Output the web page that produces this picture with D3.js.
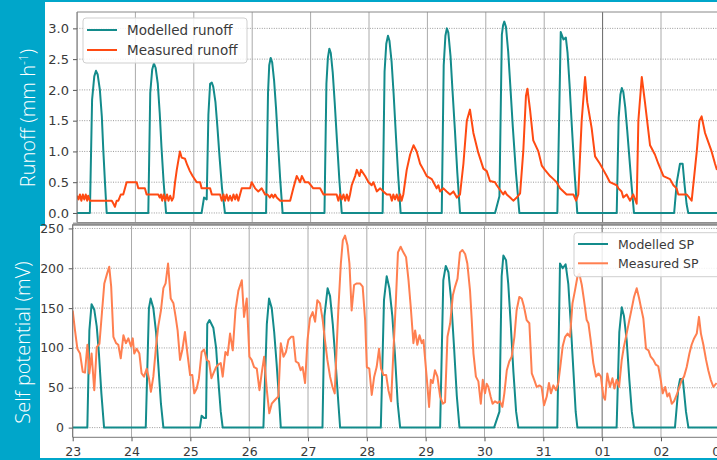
<!DOCTYPE html>
<html><head><meta charset="utf-8">
<script src="https://cdn.jsdelivr.net/npm/d3@7"></script>
<style>html,body{margin:0;padding:0;background:#00a6ca;}svg{display:block}</style>
</head><body>
<svg id="chart" width="717" height="460"></svg>
<script>
// ---- data (time in hours since 23rd 00:00) ----
const dayTicks = [0,24,48,72,96,120,144,168,192,216,240,264];
const dayLabels = ["23","24","25","26","27","28","29","30","31","01","02","03"];
const runoffTicks = [0,0.5,1,1.5,2,2.5,3];
const spTicks = [0,50,100,150,200,250];

const modelledRunoff = [
 [0,0],[5.3,0],[6.2,1.84],[7.1,2.22],[7.8,2.31],[8.5,2.25],[9.4,2.0],[10.2,1.57],[10.8,1.03],[11.5,0.49],[12.2,0],
 [29.3,0],[30.1,1.95],[30.9,2.33],[31.6,2.43],[32.3,2.36],[33.2,2.1],[34.0,1.62],[34.7,1.08],[35.6,0.5],[36.6,0],
 [51.2,0],[52.2,0.25],[53.3,0.22],[54.0,1.6],[54.7,2.1],[55.4,2.12],[56.0,2.05],[56.9,1.8],[57.7,1.4],[58.6,0.9],[59.6,0.4],[60.8,0],
 [77.7,0],[78.5,1.95],[79.0,2.4],[79.6,2.52],[80.2,2.45],[81.0,2.15],[81.8,1.7],[82.6,1.15],[83.5,0.55],[84.5,0],
 [101.7,0],[102.5,2.1],[103.1,2.52],[103.7,2.67],[104.3,2.6],[105.1,2.28],[105.9,1.8],[106.8,1.2],[107.8,0.55],[108.8,0],
 [125.6,0],[126.4,2.3],[127.1,2.75],[127.8,2.88],[128.4,2.8],[129.3,2.45],[130.1,1.95],[131.0,1.3],[132.0,0.6],[133.0,0],
 [149.9,0],[150.7,2.4],[151.4,2.88],[152.0,3.0],[152.6,2.93],[153.5,2.55],[154.3,2.0],[155.3,1.35],[156.3,0.65],[157.4,0],
 [171.8,0],[173.6,0.27],[174.6,2.9],[175.1,3.05],[175.6,3.11],[176.3,3.02],[177.2,2.62],[178.1,2.05],[179.1,1.4],[180.4,0.65],[181.8,0],
 [197.4,0],[198.8,2.94],[199.9,2.82],[200.9,2.85],[201.6,2.6],[202.4,2.1],[203.3,1.45],[204.4,0.7],[205.6,0],
 [221.8,0],[222.6,1.55],[223.3,1.92],[223.9,2.03],[224.5,1.97],[225.3,1.72],[226.1,1.35],[227.0,0.9],[227.9,0.45],[228.9,0],
 [245.4,0],[246.5,0.5],[247.8,0.8],[248.9,0.8],[249.7,0.45],[250.5,0.15],[251.2,0],[266,0]
];

const measuredRunoff = [
 [0,0.28],[0.6,0.22],[1.2,0.3],[1.8,0.2],[2.4,0.3],[3.0,0.22],[3.6,0.3],[4.2,0.2],[4.6,0.28],[5.3,0.2],[14.3,0.2],[15.0,0.15],[15.6,0.1],
 [16.3,0.2],[17,0.2],[18,0.3],[19,0.3],[20.4,0.5],[24.5,0.5],[25.2,0.4],[27.9,0.4],[28.6,0.3],[33.4,0.3],[34,0.25],[34.5,0.3],
 [35,0.2],[35.6,0.3],[36.3,0.2],[37,0.3],[37.6,0.2],[38.3,0.28],[39,0.2],[39.6,0.25],[40.3,0.5],[41,0.7],[42.3,1.0],[43.0,0.9],
 [44.4,0.88],[45.3,0.78],[46.4,0.68],[47.5,0.6],[49.2,0.5],[50.6,0.5],[51.2,0.4],[54.7,0.4],[55.4,0.3],[58.8,0.3],[59.5,0.2],
 [60.2,0.3],[60.8,0.2],[61.5,0.3],[62.2,0.2],[62.9,0.28],[63.6,0.2],[64.3,0.3],[65.0,0.22],[65.6,0.3],[66.3,0.2],[67.0,0.3],
 [67.7,0.4],[71.1,0.4],[71.8,0.5],[73.2,0.4],[74.5,0.35],[75.9,0.4],[77.3,0.3],[78.3,0.3],[79.3,0.25],[80.0,0.3],[80.7,0.25],
 [81.4,0.3],[82.1,0.25],[83.5,0.2],[87.6,0.2],[88.9,0.4],[90.3,0.6],[91.0,0.55],[91.7,0.5],[92.4,0.6],[93.7,0.5],[95.1,0.5],
 [97.1,0.4],[99.9,0.4],[101.3,0.3],[106.7,0.3],[107.4,0.2],[108.1,0.3],[108.8,0.22],[109.5,0.3],[110.2,0.2],[110.9,0.3],
 [111.6,0.2],[112.2,0.3],[112.9,0.45],[114.3,0.6],[115,0.7],[116.1,0.6],[116.7,0.7],[118.4,0.6],[119.8,0.5],[121.1,0.45],
 [121.8,0.5],[123.2,0.35],[124.6,0.4],[125.9,0.35],[127.3,0.3],[128.7,0.3],[129.4,0.2],[130.0,0.3],[130.7,0.22],[131.4,0.3],
 [132.1,0.2],[132.8,0.3],[133.4,0.2],[134.1,0.3],[134.8,0.5],[135.5,0.7],[136.9,0.95],[138.3,1.1],[139.6,1.0],[141,0.8],
 [142.4,0.7],[143.7,0.6],[145.8,0.55],[146.5,0.5],[147.8,0.4],[148.5,0.45],[149.2,0.35],[150.6,0.4],[151.9,0.35],[153.3,0.3],
 [154.7,0.35],[156.1,0.25],[157.4,0.3],[158.8,0.8],[160.2,1.5],[161.5,1.68],[162.9,1.3],[164.9,0.98],[167,0.72],[168.4,0.68],
 [169.7,0.52],[171.8,0.5],[172.5,0.45],[175.2,0.3],[175.9,0.35],[176.6,0.3],[178,0.25],[179.3,0.2],[180.7,0.25],[182.1,0.32],
 [183.4,1.0],[184.5,1.9],[185.1,2.02],[186.2,1.67],[187.5,1.18],[189.6,1.0],[191,0.77],[192.3,0.7],[194.4,0.6],[195.8,0.55],
 [197.1,0.5],[198.5,0.4],[199.9,0.35],[201.2,0.3],[204,0.3],[205.1,0.2],[206,0.3],[207.4,1.5],[208.8,2.21],[209.7,1.8],
 [211.5,1.38],[212.9,0.92],[214.9,0.8],[216.3,0.7],[217.7,0.6],[219,0.5],[221.8,0.45],[222.5,0.4],[223.8,0.35],[224.5,0.25],
 [225.9,0.3],[227.3,0.2],[228.6,0.3],[230,0.15],[230.7,1.5],[232.1,2.21],[233.4,1.8],[235.5,1.1],[237.5,0.95],[238.9,0.8],
 [241,0.6],[243.7,0.55],[245.1,0.45],[246.4,0.4],[247.1,0.3],[250.6,0.3],[252.6,0.2],[254.7,1.0],[255.8,1.5],[256.7,1.57],
 [258.1,1.3],[259,1.2],[260.8,1.0],[262.2,0.8],[263,0.7]
];

const modelledSP = [
 [0,0],[5.97,0],[6.8,122],[7.7,155],[8.8,148],[9.8,127],[10.7,93],[11.7,43],[12.8,0],
 [29.8,0],[31.1,150],[31.8,162],[32.9,150],[34.0,120],[34.9,80],[36.0,30],[37.0,0],
 [51.9,0],[52.6,15],[53.6,12],[54.4,12],[54.9,130],[55.8,135],[57.4,125],[58.5,100],[59.4,60],[60.4,20],[61.2,0],
 [77.8,0],[79.2,130],[80.1,162],[81.2,150],[82.2,120],[83.2,80],[84.3,30],[84.9,0],
 [101.9,0],[102.7,140],[104.0,175],[105.0,165],[106.1,130],[107.3,80],[108.4,30],[109.1,0],
 [125.7,0],[127.0,160],[128.1,190],[129.2,175],[130.4,140],[131.5,90],[132.6,30],[133.6,0],
 [149.9,0],[151.2,185],[152.2,203],[153.3,195],[154.4,160],[155.6,100],[156.7,40],[157.8,0],
 [171.9,0],[174.1,20],[175.0,190],[175.7,216],[176.8,210],[177.7,180],[178.7,130],[179.8,70],[180.9,20],[181.8,0],
 [197.7,0],[198.8,206],[199.9,200],[201.1,205],[202.2,180],[203.2,130],[204.3,70],[205.2,20],[205.9,0],
 [221.9,0],[223.0,120],[224.0,151],[224.9,140],[226.0,110],[227.1,60],[228.1,20],[229.0,0],
 [245.7,0],[247.1,50],[247.8,61],[248.9,61],[250.2,20],[251.2,0],[266,0]
];

const measuredSP = [
 [0,147],[0.94,122],[1.9,99],[3.0,93],[4.1,70],[5.0,69],[6.0,104],[6.8,68],[7.7,93],[8.8,47],[9.8,101],[10.9,105],[12.0,147],
 [12.9,181],[14.0,193],[14.9,202],[15.7,177],[16.6,114],[17.7,106],[18.6,104],[19.6,87],[20.7,116],[21.7,106],[22.7,112],
 [23.8,102],[24.5,112],[25.1,93],[26.1,99],[27.2,93],[28.1,68],[29.1,64],[30.2,74],[31.1,62],[31.9,45],[32.9,64],[34.0,102],
 [34.9,127],[36.0,147],[37.0,175],[37.9,181],[38.9,206],[40.0,162],[41.1,156],[42.0,139],[42.8,122],[43.8,85],[44.7,97],
 [45.8,120],[46.8,93],[47.9,66],[48.8,66],[49.6,43],[50.6,49],[51.5,62],[52.6,95],[53.6,98],[54.7,85],[55.6,83],[56.6,62],
 [57.4,68],[58.5,76],[59.4,79],[60.4,81],[61.2,64],[62.3,95],[63.2,91],[64.2,118],[65.3,97],[66.4,147],[67.6,172],[69.0,185],
 [69.9,139],[71.0,162],[72.1,89],[73.0,85],[74.0,76],[75.1,74],[76.2,47],[77.1,68],[78.1,89],[79.2,47],[80.2,18],[81.2,30],
 [82.6,35],[83.9,39],[84.9,106],[86.0,89],[87.0,95],[88.0,110],[89.1,114],[90.0,114],[91.0,83],[92.1,81],[93.0,72],[93.8,76],
 [94.8,56],[95.8,110],[96.8,137],[97.9,145],[98.9,133],[99.8,160],[100.9,156],[102.0,135],[102.9,110],[103.9,85],[105.0,64],
 [106.0,51],[106.9,43],[107.7,102],[108.4,150],[109.4,206],[110.2,235],[111.1,241],[112.1,229],[112.9,206],[113.8,147],
 [114.8,179],[115.9,181],[117.2,181],[118.3,177],[119.3,135],[120.0,76],[121.0,74],[122.0,41],[123.0,64],[124.0,76],[125.0,99],
 [125.8,74],[126.8,66],[127.9,66],[128.8,47],[129.9,33],[130.8,93],[131.8,156],[132.7,220],[133.8,227],[134.9,220],[136.0,214],
 [137.0,185],[137.9,152],[139.0,106],[139.7,122],[140.6,104],[141.5,116],[142.4,106],[143.1,110],[144.4,64],[145.4,26],[146.1,60],
 [146.9,56],[147.8,72],[148.8,64],[149.9,39],[151.0,30],[151.9,32],[152.9,114],[154.0,131],[155.1,166],[156.0,177],[157.0,187],
 [158.0,220],[159.0,223],[160.1,218],[161.0,206],[162.1,172],[162.8,135],[163.5,93],[164.5,64],[165.5,58],[166.5,30],[167.3,60],
 [168.2,43],[168.9,55],[169.6,51],[170.5,39],[171.3,30],[172.3,33],[173.3,31],[174.3,33],[175.3,26],[176.1,43],[177.1,72],
 [178.1,83],[179.1,89],[180.2,114],[181.1,147],[182.2,164],[183.2,162],[184.1,152],[185.2,135],[186.3,131],[187.3,68],[188.3,60],
 [189.3,51],[190.4,53],[191.3,51],[192.3,28],[193.4,39],[194.3,56],[195.1,43],[196.1,53],[197.2,47],[198.1,56],[199.1,81],
 [199.9,102],[200.9,114],[201.9,118],[202.9,114],[203.9,156],[204.9,172],[205.9,189],[206.7,193],[207.7,179],[208.6,160],
 [209.7,135],[210.4,131],[211.3,110],[212.4,81],[213.5,64],[214.5,68],[215.5,64],[216.5,39],[217.2,35],[218.1,68],[219.2,51],
 [220.2,62],[221.0,49],[221.9,60],[222.9,51],[224.0,85],[224.9,102],[226.0,118],[227.1,135],[228.1,150],[229.0,164],[230.1,175],
 [231.1,162],[231.9,150],[232.8,137],[233.9,99],[234.9,97],[235.8,89],[236.9,85],[237.9,79],[238.9,77],[239.9,60],[240.7,43],
 [241.7,51],[242.6,39],[243.4,43],[244.4,30],[245.3,33],[246.4,41],[247.5,51],[248.5,60],[249.4,64],[250.5,76],[251.6,93],
 [252.5,104],[253.5,112],[254.6,118],[255.5,139],[256.3,118],[257.3,104],[258.4,85],[259.3,72],[260.3,60],[261.4,51],[262.7,56]
];

// ---- colours / styles ----
const teal = "#138b8b", orangered = "#ff4a12", coral = "#ff7f50";
const cyan = "#00a6ca";
const tickColor = "#3a3a3a";

const svg = d3.select("#chart");
const W = 717, H = 460;

svg.append("rect").attr("width", W).attr("height", H).attr("fill", cyan);

const pTop = {x0: 77, y0: 12, y1: 222.5};
const pBot = {x0: 72.7, y0: 224.3, y1: 437.3};

const xTop = d3.scaleLinear().domain([0, 264]).range([77, 719.4]);
const yTop = d3.scaleLinear().domain([-0.155, 3.266]).range([222.5, 12]);
const xBot = d3.scaleLinear().domain([0, 264]).range([72.7, 719.8]);
const yBot = d3.scaleLinear().domain([-12.15, 255.2]).range([437.3, 224.3]);

svg.append("rect").attr("x", 45).attr("y", 2).attr("width", W - 45).attr("height", 224).attr("fill", "#fff");

const defs = svg.append("defs");
defs.append("clipPath").attr("id", "clipTop").append("rect")
  .attr("x", pTop.x0).attr("y", pTop.y0).attr("width", W - pTop.x0).attr("height", pTop.y1 - pTop.y0);
defs.append("clipPath").attr("id", "clipBot").append("rect")
  .attr("x", pBot.x0).attr("y", pBot.y0).attr("width", W - pBot.x0).attr("height", pBot.y1 - pBot.y0);

function drawPanel(g, x, y, yTicks, yFmt, clipId, box, fontSize, labelEnd) {
  const grid = g.append("g").attr("clip-path", `url(#${clipId})`);
  grid.selectAll("line.h").data(yTicks).join("line")
    .attr("x1", box.x0).attr("x2", W).attr("y1", d => y(d)).attr("y2", d => y(d))
    .attr("stroke", "#9a9a9a").attr("stroke-width", 1).attr("stroke-dasharray", "1,1.4");
  grid.selectAll("line.v").data(dayTicks).join("line")
    .attr("x1", d => x(d)).attr("x2", d => x(d)).attr("y1", box.y0).attr("y2", box.y1)
    .attr("stroke", (d, i) => dayLabels[i] === "01" ? "#666" : "#aaaaaa").attr("stroke-width", 1);
  const ya = d3.axisLeft(y).tickValues(yTicks).tickFormat(yFmt).tickSize(4).tickPadding(4);
  const ag = g.append("g").attr("transform", `translate(${box.x0},0)`).call(ya);
  ag.select(".domain").remove();
  ag.selectAll("line").attr("stroke", "#555");
  ag.selectAll("text").attr("fill", tickColor).style("font-family", "DejaVu Sans")
    .style("font-size", fontSize + "px").attr("x", labelEnd - box.x0);
  g.append("line").attr("x1", box.x0).attr("x2", box.x0).attr("y1", box.y0).attr("y2", box.y1)
    .attr("stroke", "#666").attr("stroke-width", 1);
  g.append("line").attr("x1", box.x0).attr("x2", W).attr("y1", box.y0).attr("y2", box.y0)
    .attr("stroke", "#888").attr("stroke-width", 1);
  return grid;
}

function drawLine(grid, data, x, y, color) {
  const line = d3.line().x(d => x(d[0])).y(d => y(d[1]));
  grid.append("path").datum(data).attr("d", line).attr("fill", "none")
    .attr("stroke", color).attr("stroke-width", 2).attr("stroke-linejoin", "round");
}

function legend(g, bx, by, bw, bh, items, fs) {
  g.append("rect").attr("x", bx).attr("y", by).attr("width", bw).attr("height", bh)
    .attr("rx", 3).attr("fill", "#fff").attr("fill-opacity", 0.85).attr("stroke", "#cfcfcf").attr("stroke-width", 1);
  items.forEach(it => {
    g.append("line").attr("x1", bx + 4).attr("x2", bx + 34).attr("y1", it.y).attr("y2", it.y)
      .attr("stroke", it.color).attr("stroke-width", 2);
    g.append("text").attr("x", bx + 44).attr("y", it.y + fs * 0.36).text(it.label)
      .attr("fill", tickColor).style("font-family", "DejaVu Sans").style("font-size", fs + "px");
  });
}

// ---- top panel ----
const gTop = svg.append("g");
const gridTop = drawPanel(gTop, xTop, yTop, runoffTicks, d3.format(".1f"), "clipTop", pTop, 13, 69);
drawLine(gridTop, modelledRunoff, xTop, yTop, teal);
drawLine(gridTop, measuredRunoff, xTop, yTop, orangered);
gTop.append("line").attr("x1", pTop.x0).attr("x2", W).attr("y1", pTop.y1).attr("y2", pTop.y1).attr("stroke", "#777");
legend(gTop, 83, 18, 164, 45, [
  {y: 30, color: teal, label: "Modelled runoff"},
  {y: 50, color: orangered, label: "Measured runoff"}
], 13.5);

// ---- bottom panel ----
svg.append("rect").attr("x", 40).attr("y", 226).attr("width", W - 40).attr("height", 232).attr("fill", "#fff");
svg.append("rect").attr("x", 73).attr("y", 222.5).attr("width", W - 73).attr("height", 3.5).attr("fill", "#a6a6a6");
const gBot = svg.append("g");
const gridBot = drawPanel(gBot, xBot, yBot, spTicks, d3.format("d"), "clipBot", pBot, 12.5, 64);
drawLine(gridBot, modelledSP, xBot, yBot, teal);
drawLine(gridBot, measuredSP, xBot, yBot, coral);
gBot.append("line").attr("x1", pBot.x0).attr("x2", W).attr("y1", pBot.y1).attr("y2", pBot.y1).attr("stroke", "#777");
const xa = d3.axisBottom(xBot).tickValues(dayTicks).tickFormat((d, i) => dayLabels[i]).tickSize(4).tickPadding(6);
const xg = gBot.append("g").attr("transform", `translate(0,${pBot.y1})`).call(xa);
xg.select(".domain").remove();
xg.selectAll("line").attr("stroke", "#555");
xg.selectAll("text").attr("fill", tickColor).style("font-family", "DejaVu Sans").style("font-size", "12.5px");
legend(gBot, 574, 232.7, 150, 44, [
  {y: 244, color: teal, label: "Modelled SP"},
  {y: 263.3, color: coral, label: "Measured SP"}
], 12.5);

svg.append("rect").attr("x", 0).attr("y", 458).attr("width", W).attr("height", 2).attr("fill", cyan);

// ---- side labels ----
const lab1 = svg.append("text").attr("transform", "translate(35,118) rotate(-90)")
  .attr("text-anchor", "middle").attr("fill", "#fff")
  .style("font-family", "'Open Sans', Lato, sans-serif").style("font-weight", 300).style("font-size", "20px");
lab1.append("tspan").text("Runoff (mm h");
lab1.append("tspan").attr("dy", -7).style("font-size", "12px").text("-1");
lab1.append("tspan").attr("dy", 7).text(")");

svg.append("text").attr("transform", "translate(30,342.5) rotate(-90)")
  .attr("text-anchor", "middle").attr("fill", "#fff")
  .style("font-family", "'Open Sans', Lato, sans-serif").style("font-weight", 300).style("font-size", "20px")
  .text("Self potential (mV)");
</script>
</body></html>
